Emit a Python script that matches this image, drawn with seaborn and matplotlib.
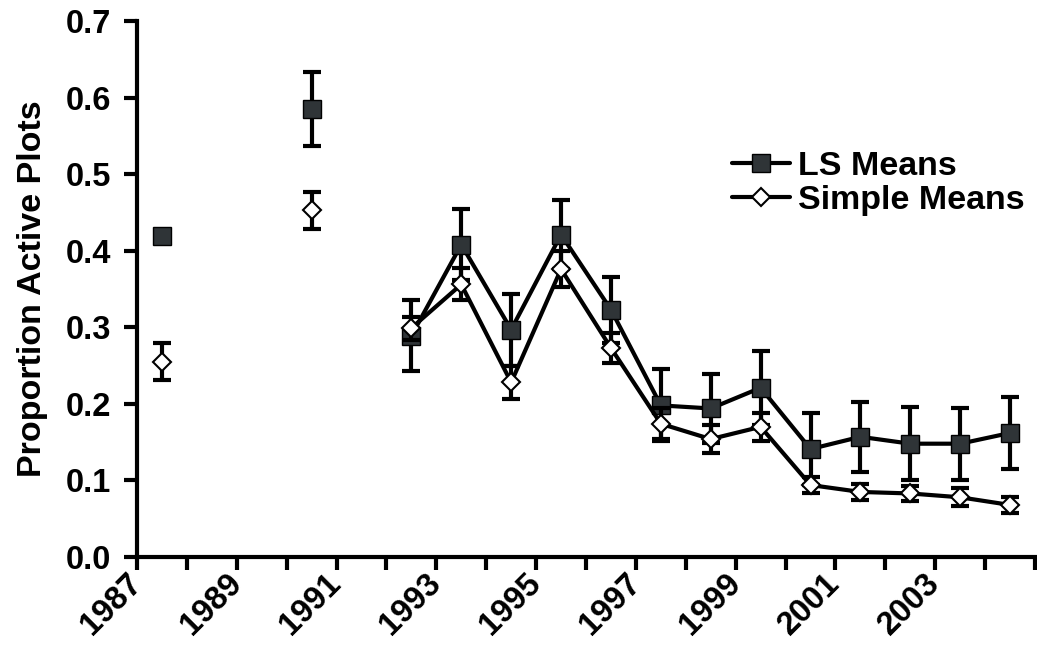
import numpy as np
import pandas as pd
import matplotlib
matplotlib.use("Agg")
import matplotlib.pyplot as plt
import matplotlib.transforms as mtransforms
import seaborn as sns
from matplotlib.lines import Line2D

# ---- data ----
first_year = 1987
last_year = 2004
years = [1987, 1990, 1992, 1993, 1994, 1995, 1996, 1997, 1998, 1999, 2000, 2001, 2002, 2003, 2004]
ls_mean = [0.419, 0.585, 0.289, 0.408, 0.297, 0.421, 0.323, 0.198, 0.194, 0.221, 0.141, 0.157, 0.148, 0.148, 0.162]
ls_err = [0.002, 0.048, 0.046, 0.046, 0.047, 0.045, 0.043, 0.047, 0.045, 0.048, 0.047, 0.046, 0.048, 0.047, 0.047]
simple_mean = [0.255, 0.453, 0.299, 0.356, 0.228, 0.376, 0.273, 0.174, 0.154, 0.170, 0.094, 0.085, 0.083, 0.078, 0.068]
simple_err = [0.024, 0.024, 0.015, 0.021, 0.022, 0.024, 0.020, 0.020, 0.018, 0.018, 0.011, 0.011, 0.010, 0.012, 0.010]
series_labels = ["LS Means", "Simple Means"]
y_label = "Proportion Active Plots"
y_ticks = [0.0, 0.1, 0.2, 0.3, 0.4, 0.5, 0.6, 0.7]

sns.set_style("ticks")
plt.rcParams["font.family"] = ["Liberation Sans", "DejaVu Sans"]
plt.rcParams["font.weight"] = "bold"
plt.rcParams["text.color"] = "black"
plt.rcParams["axes.labelcolor"] = "black"
plt.rcParams["xtick.color"] = "black"
plt.rcParams["ytick.color"] = "black"

df = pd.DataFrame({"year": years, "ls": ls_mean, "ls_err": ls_err,
                   "simple": simple_mean, "simple_err": simple_err})
df["pos"] = df["year"] - first_year + 0.5
df["seg"] = (df["year"].diff() != 1).cumsum()

fig = plt.figure(figsize=(10.37, 6.64), dpi=100)
ax = fig.add_axes([0.1321, 0.1611, 0.866, 0.8073])

LS_FACE = "#2f3437"

# LS means
ax.errorbar(df["pos"], df["ls"], yerr=df["ls_err"], fmt="none", ecolor="black",
            elinewidth=3, capsize=6.5, capthick=3, zorder=2)
sns.lineplot(data=df, x="pos", y="ls", units="seg", estimator=None, ax=ax,
             color="black", lw=3, marker="s", markersize=12.5,
             markerfacecolor=LS_FACE, markeredgecolor="black", markeredgewidth=1,
             legend=False, zorder=3)

# Simple means
ax.errorbar(df["pos"], df["simple"], yerr=df["simple_err"], fmt="none", ecolor="black",
            elinewidth=3, capsize=6.5, capthick=3, zorder=4)
sns.lineplot(data=df, x="pos", y="simple", units="seg", estimator=None, ax=ax,
             color="black", lw=3, marker="D", markersize=9.5,
             markerfacecolor="white", markeredgecolor="black", markeredgewidth=1.5,
             legend=False, zorder=5)

# axes
ncat = last_year - first_year + 1
ax.set_xlim(0, ncat)
ax.set_ylim(0, 0.7)
ax.set_yticks(y_ticks)
ax.set_yticklabels([f"{v:.1f}" for v in y_ticks])
xt = np.arange(0, ncat + 1)
ax.set_xticks(xt)
ax.set_xticklabels([str(first_year + i) if (i % 2 == 0 and i < ncat - 1) else "" for i in xt],
                   rotation=45, ha="right", va="center", rotation_mode="anchor")
shift = mtransforms.ScaledTranslation(5 / 100, 0, fig.dpi_scale_trans)
for lab in ax.get_xticklabels():
    lab.set_transform(lab.get_transform() + shift)
ax.set_xlabel("")
ax.set_ylabel(y_label, fontsize=24.5, fontweight="bold", color="black", labelpad=13)

sns.despine(ax=ax)
for s in ["left", "bottom"]:
    ax.spines[s].set_linewidth(3)
    ax.spines[s].set_color("black")
ax.tick_params(axis="both", direction="out", length=9.5, width=3, colors="black",
               labelsize=23.5)
ax.tick_params(axis="y", pad=9)
ax.tick_params(axis="x", pad=6)

handles = [
    Line2D([0], [0], color="black", lw=3, marker="s", markersize=12.5,
           markerfacecolor=LS_FACE, markeredgecolor="black", markeredgewidth=1),
    Line2D([0], [0], color="black", lw=3, marker="D", markersize=9.5,
           markerfacecolor="white", markeredgecolor="black", markeredgewidth=1.5),
]
leg = ax.legend(handles, series_labels, loc="center left", bbox_to_anchor=(0.6626, 0.697),
                frameon=False, prop={"size": 24.5, "weight": "bold"}, handlelength=1.7,
                handletextpad=0.25, labelspacing=0.08, borderaxespad=0, borderpad=0)
for t in leg.get_texts():
    t.set_color("black")

fig.savefig("out.png", dpi=100)
